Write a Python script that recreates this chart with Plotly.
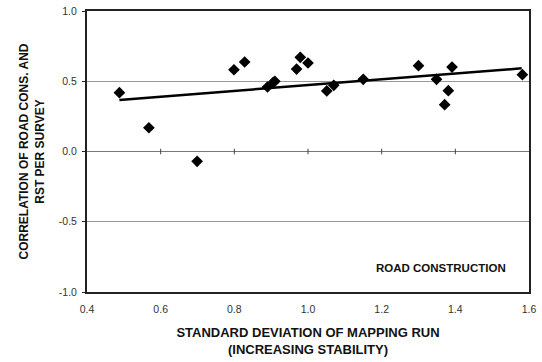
import plotly.graph_objects as go

# data
std_dev = [0.488, 0.568, 0.699, 0.799, 0.828, 0.890, 0.905, 0.910, 0.969, 0.979, 1.000,
           1.051, 1.070, 1.150, 1.300, 1.349, 1.371, 1.381, 1.391, 1.582]
correlation = [0.419, 0.169, -0.070, 0.582, 0.637, 0.459, 0.490, 0.500, 0.587, 0.670, 0.630,
               0.431, 0.471, 0.514, 0.611, 0.514, 0.333, 0.433, 0.601, 0.547]
trend_x = [0.488, 1.58]
trend_y = [0.367, 0.592]
x_ticks = [0.4, 0.6, 0.8, 1.0, 1.2, 1.4, 1.6]
x_tick_labels = ["0.4", "0.6", "0.8", "1.0", "1.2", "1.4", "1.6"]
y_ticks = [-1.0, -0.5, 0.0, 0.5, 1.0]
y_tick_labels = ["-1.0", "-0.5", "0.0", "0.5", "1.0"]

fig = go.Figure()
# tick marks on the zero line (Excel-style axis crossing)
fig.add_trace(go.Scatter(x=x_ticks[1:-1], y=[0] * (len(x_ticks) - 2), mode="markers",
                         marker=dict(symbol="line-ns", size=4, line=dict(color="#444", width=1)),
                         hoverinfo="skip", showlegend=False))
fig.add_trace(go.Scatter(x=trend_x, y=trend_y, mode="lines",
                         line=dict(color="black", width=2.5), showlegend=False))
fig.add_trace(go.Scatter(x=std_dev, y=correlation, mode="markers",
                         marker=dict(symbol="diamond", size=9, color="black"), showlegend=False))

fig.add_annotation(x=1.36, y=-0.83, text="<b>ROAD CONSTRUCTION</b>", showarrow=False,
                   font=dict(family="Liberation Sans, Arial", size=11.5, color="#111"))

fig.update_layout(
    width=542, height=362,
    margin=dict(l=87, r=13, t=11, b=70),
    paper_bgcolor="white", plot_bgcolor="white",
    font=dict(family="Liberation Sans, Arial", size=10, color="#222"),
    xaxis=dict(range=[0.4, 1.6], tickvals=x_ticks, ticktext=x_tick_labels, ticks="",
               showgrid=False, zeroline=False, showline=True, linecolor="#222", linewidth=2,
               mirror=True, tickfont=dict(size=10.5, color="#333"), ticklabelstandoff=6,
               automargin=False,
               title=dict(text="<b>STANDARD DEVIATION OF MAPPING RUN<br>(INCREASING STABILITY)</b>",
                          font=dict(size=13, color="#111"), standoff=14)),
    yaxis=dict(range=[-1.0, 1.0], tickvals=y_ticks, ticktext=y_tick_labels, ticks="outside",
               ticklen=3, tickcolor="#222", showgrid=True, gridcolor="#999", gridwidth=1,
               zeroline=True, zerolinecolor="#777", zerolinewidth=1.2,
               showline=True, linecolor="#222", linewidth=2, mirror=True,
               tickfont=dict(size=10.5, color="#333"), ticklabelstandoff=3,
               automargin=False,
               title=dict(text="<b>CORRELATION OF ROAD CONS. AND<br>RST PER SURVEY</b>",
                          font=dict(size=12, color="#111"), standoff=12)),
)

fig.write_html("out.html")
